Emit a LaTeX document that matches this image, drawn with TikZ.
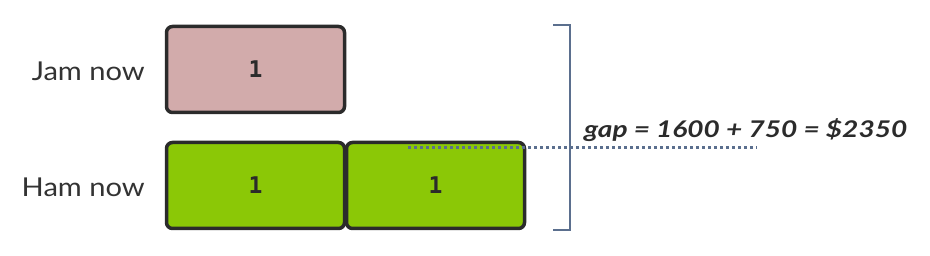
\documentclass[tikz,border=0pt]{standalone}
\usepackage{fontspec}
\setmainfont{Lato}
\newfontfamily\digitfont{DejaVu Sans Mono}
\usetikzlibrary{positioning}
\definecolor{jampink}{RGB}{210,171,171}
\definecolor{hamgreen}{RGB}{139,200,6}
\definecolor{boxline}{RGB}{43,43,43}
\definecolor{gapblue}{RGB}{91,111,142}
\definecolor{labeltext}{RGB}{51,51,51}
\newcommand{\widen}[2]{\scalebox{#1}[1]{#2}}
\tikzset{
    unitbox/.style={draw=boxline, line width=3.5pt, rounded corners=6pt,
        minimum width=178pt, minimum height=86pt, inner sep=0pt,
        font=\digitfont\bfseries\fontsize{23}{28}\selectfont, text=boxline},
    rowlabel/.style={anchor=east, text=labeltext, font=\fontsize{26}{30}\selectfont, inner sep=0pt}
}
\begin{document}
\begin{tikzpicture}[x=1pt,y=-1pt]
    \useasboundingbox (0,0) rectangle (930,256);
    % Jam row
    \node[unitbox, fill=jampink] (jam1) at (255.5,69.5) {1};
    \node[rowlabel] (jamlabel) at (145,71) {\widen{1.12}{Jam now}};

    % Ham row
    \node[unitbox, fill=hamgreen] (ham1) at (255.5,185.5) {1};
    \node[unitbox, fill=hamgreen] (ham2) at (435.5,185.5) {1};
    \node[rowlabel] (hamlabel) at (145,187) {\widen{1.12}{Ham now}};

    % Gap bracket
    \draw[gapblue, line width=2.5pt] (553,25) -- (570,25) -- (570,230) -- (553,230);
    \coordinate (gapL) at (408,148);
    \coordinate (gapR) at (757,148);
    \draw[gapblue, line width=3pt, dash pattern=on 3pt off 3pt] (gapL) -- (gapR);
    \node[anchor=base west, inner sep=0pt, text=boxline, font=\bfseries\itshape\fontsize{23}{28}\selectfont] (gaptext) at (584,138) {\widen{1.22}{gap = 1600 + 750 = \$2350}};
\end{tikzpicture}
\end{document}
